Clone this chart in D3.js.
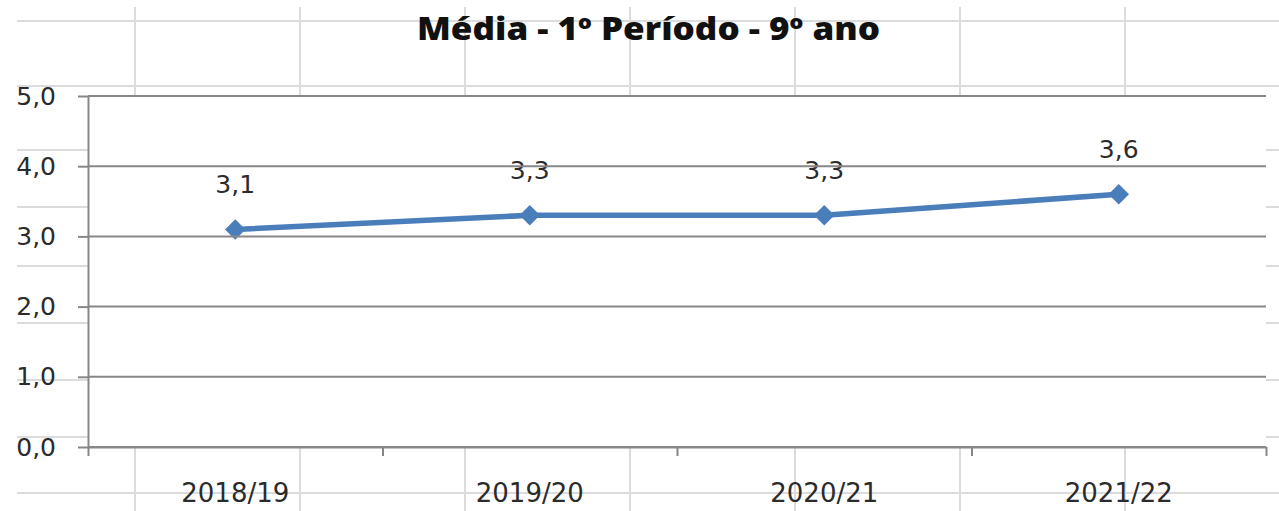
<!DOCTYPE html>
<html>
<head>
<meta charset="utf-8">
<script src="https://cdn.jsdelivr.net/npm/d3@7"></script>
<style>
  body { margin: 0; background: #fff; }
  svg { display: block; }
</style>
</head>
<body>
<script>
// chart data
var categories = ["2018/19", "2019/20", "2020/21", "2021/22"];
var values = [3.1, 3.3, 3.3, 3.6];
var yTicks = [0, 1, 2, 3, 4, 5];
var title = "Média - 1º Período - 9º ano";

// spreadsheet cell grid behind the chart (layout only)
var sheetCols = [135, 300, 465, 630, 795, 960, 1125];
var sheetRows = [21, 86, 150, 207, 266, 323, 380, 437, 493];

var W = 1279, H = 511;
var plot = {left: 88, right: 1266, top: 96, bottom: 447};
var font = "'DejaVu Sans', sans-serif";
var textColor = "#2b2b2b";
var gridColor = "#878787";
var blue = "#4a7ebb";

var svg = d3.select("body").append("svg")
    .attr("width", W)
    .attr("height", H);

// sheet gridlines
svg.append("g").selectAll("line").data(sheetCols).enter().append("line")
    .attr("x1", function(d) { return d; }).attr("x2", function(d) { return d; })
    .attr("y1", 7).attr("y2", H)
    .style("stroke", "#dcdcdc").style("stroke-width", 2);
svg.append("g").selectAll("line").data(sheetRows).enter().append("line")
    .attr("x1", 17).attr("x2", W)
    .attr("y1", function(d) { return d; }).attr("y2", function(d) { return d; })
    .style("stroke", "#dcdcdc").style("stroke-width", 2);

// plot area fill
svg.append("rect")
    .attr("x", plot.left).attr("y", plot.top)
    .attr("width", plot.right - plot.left)
    .attr("height", plot.bottom - plot.top)
    .style("fill", "#fff");

var x = d3.scaleBand().domain(categories).range([plot.left, plot.right]).padding(0);
var xEdge = d3.scaleLinear().domain([0, categories.length]).range([plot.left, plot.right]);
var y = d3.scaleLinear().domain([0, 5]).range([plot.bottom, plot.top]);

function fmt(v) { return d3.format(".1f")(v).replace(".", ","); }

// series line and markers
var line = d3.line()
    .x(function(d, i) { return x(categories[i]) + x.bandwidth() / 2; })
    .y(function(d) { return y(d); });

svg.append("path")
    .datum(values)
    .attr("d", line)
    .style("fill", "none")
    .style("stroke", blue)
    .style("stroke-width", 5.5)
    .style("stroke-linejoin", "round");

svg.append("g").selectAll("path").data(values).enter().append("path")
    .attr("d", d3.symbol(d3.symbolSquare, 210))
    .attr("transform", function(d, i) {
        return "translate(" + (x(categories[i]) + x.bandwidth() / 2) + "," + y(d) + ") rotate(45)";
    })
    .style("fill", blue);

// data labels
svg.append("g").selectAll("text").data(values).enter().append("text")
    .attr("x", function(d, i) { return x(categories[i]) + x.bandwidth() / 2; })
    .attr("y", function(d) { return y(d) - 36; })
    .attr("text-anchor", "middle")
    .style("font-family", font)
    .style("font-size", "25px")
    .style("fill", textColor)
    .text(fmt);

// horizontal gridlines (drawn over labels, as in the original)
svg.append("g").selectAll("line").data(yTicks).enter().append("line")
    .attr("x1", plot.left).attr("x2", plot.right)
    .attr("y1", function(d) { return y(d); }).attr("y2", function(d) { return y(d); })
    .style("stroke", gridColor).style("stroke-width", 2);

// y axis
var yAxis = svg.append("g")
    .attr("transform", "translate(" + plot.left + ",0)")
    .call(d3.axisLeft(y).tickValues(yTicks).tickFormat(fmt)
        .tickSize(10).tickSizeOuter(0).tickPadding(22));
yAxis.selectAll("path, line").style("stroke", gridColor).style("stroke-width", 2);
yAxis.selectAll("text")
    .style("font-family", font).style("font-size", "25px").style("fill", textColor);

// x axis: tick marks at category edges, labels centred
var xTicks = svg.append("g")
    .attr("transform", "translate(0," + plot.bottom + ")")
    .call(d3.axisBottom(xEdge).tickValues(d3.range(categories.length + 1))
        .tickFormat("").tickSize(9).tickSizeOuter(0));
xTicks.selectAll("path, line").style("stroke", gridColor).style("stroke-width", 2);

var xLabels = svg.append("g")
    .attr("transform", "translate(0," + plot.bottom + ")")
    .call(d3.axisBottom(x).tickSize(0).tickPadding(37));
xLabels.select(".domain").remove();
xLabels.selectAll("text")
    .style("font-family", font).style("font-size", "26px").style("fill", textColor);

// title
svg.append("text")
    .attr("x", 648.5)
    .attr("y", 40)
    .attr("text-anchor", "middle")
    .attr("textLength", 463)
    .attr("lengthAdjust", "spacingAndGlyphs")
    .style("font-family", "'Open Sans', sans-serif")
    .style("font-weight", 800)
    .style("font-size", "31px")
    .style("fill", "#111")
    .text(title);

// screenshot crop on the left edge
svg.append("rect")
    .attr("x", 0).attr("y", 0).attr("width", 17).attr("height", H)
    .style("fill", "#fff");
</script>
</body>
</html>
